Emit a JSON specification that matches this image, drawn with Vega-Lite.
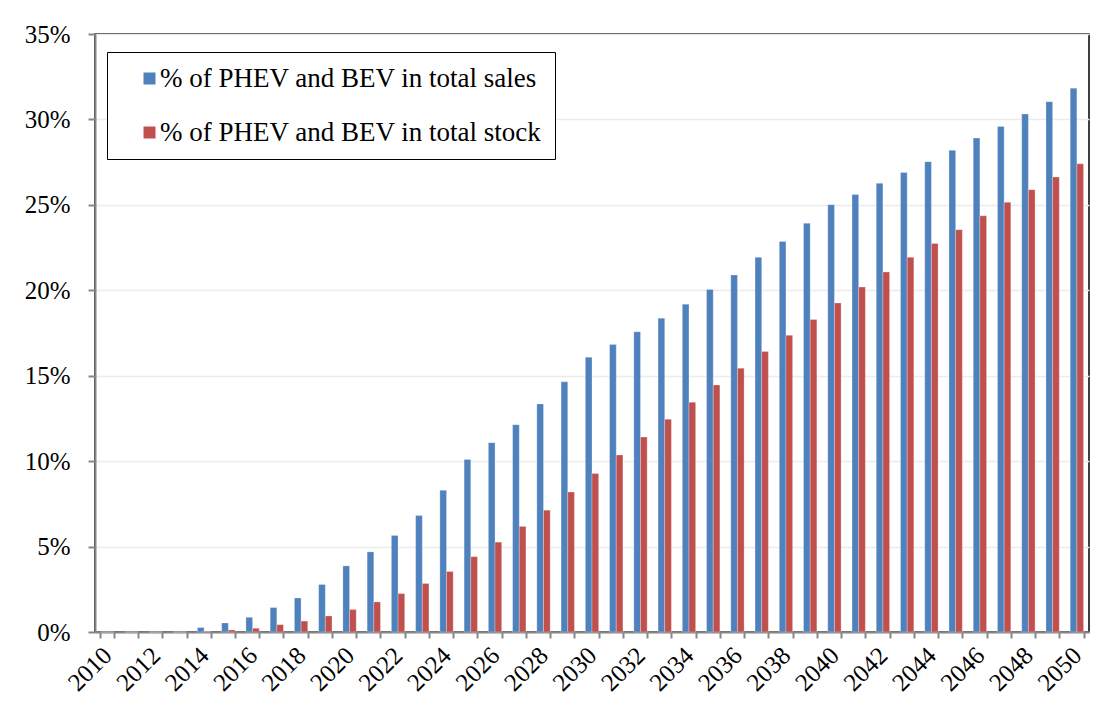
{
  "$schema": "https://vega.github.io/schema/vega-lite/v6.json",
  "width": 994,
  "height": 598,
  "autosize": "none",
  "padding": {"left": 95, "top": 34, "right": 27, "bottom": 90},
  "background": "white",
  "config": {
    "font": "Liberation Serif",
    "view": {"stroke": "#000000", "strokeWidth": 1.5}
  },
  "data": {
    "values": [
      {"year": 2010, "series": "sales", "value": 0}, {"year": 2010, "series": "stock", "value": 0},
      {"year": 2011, "series": "sales", "value": 0}, {"year": 2011, "series": "stock", "value": 0},
      {"year": 2012, "series": "sales", "value": 0}, {"year": 2012, "series": "stock", "value": 0},
      {"year": 2013, "series": "sales", "value": 0}, {"year": 2013, "series": "stock", "value": 0},
      {"year": 2014, "series": "sales", "value": 0.26}, {"year": 2014, "series": "stock", "value": 0.03},
      {"year": 2015, "series": "sales", "value": 0.53}, {"year": 2015, "series": "stock", "value": 0.12},
      {"year": 2016, "series": "sales", "value": 0.86}, {"year": 2016, "series": "stock", "value": 0.22},
      {"year": 2017, "series": "sales", "value": 1.43}, {"year": 2017, "series": "stock", "value": 0.43},
      {"year": 2018, "series": "sales", "value": 1.99}, {"year": 2018, "series": "stock", "value": 0.64},
      {"year": 2019, "series": "sales", "value": 2.78}, {"year": 2019, "series": "stock", "value": 0.94},
      {"year": 2020, "series": "sales", "value": 3.87}, {"year": 2020, "series": "stock", "value": 1.31},
      {"year": 2021, "series": "sales", "value": 4.69}, {"year": 2021, "series": "stock", "value": 1.76},
      {"year": 2022, "series": "sales", "value": 5.65}, {"year": 2022, "series": "stock", "value": 2.25},
      {"year": 2023, "series": "sales", "value": 6.82}, {"year": 2023, "series": "stock", "value": 2.84},
      {"year": 2024, "series": "sales", "value": 8.29}, {"year": 2024, "series": "stock", "value": 3.54},
      {"year": 2025, "series": "sales", "value": 10.09}, {"year": 2025, "series": "stock", "value": 4.41},
      {"year": 2026, "series": "sales", "value": 11.08}, {"year": 2026, "series": "stock", "value": 5.26},
      {"year": 2027, "series": "sales", "value": 12.13}, {"year": 2027, "series": "stock", "value": 6.18},
      {"year": 2028, "series": "sales", "value": 13.35}, {"year": 2028, "series": "stock", "value": 7.13},
      {"year": 2029, "series": "sales", "value": 14.64}, {"year": 2029, "series": "stock", "value": 8.19},
      {"year": 2030, "series": "sales", "value": 16.08}, {"year": 2030, "series": "stock", "value": 9.28},
      {"year": 2031, "series": "sales", "value": 16.82}, {"year": 2031, "series": "stock", "value": 10.36},
      {"year": 2032, "series": "sales", "value": 17.57}, {"year": 2032, "series": "stock", "value": 11.41},
      {"year": 2033, "series": "sales", "value": 18.37}, {"year": 2033, "series": "stock", "value": 12.45},
      {"year": 2034, "series": "sales", "value": 19.19}, {"year": 2034, "series": "stock", "value": 13.45},
      {"year": 2035, "series": "sales", "value": 20.05}, {"year": 2035, "series": "stock", "value": 14.46},
      {"year": 2036, "series": "sales", "value": 20.9}, {"year": 2036, "series": "stock", "value": 15.44},
      {"year": 2037, "series": "sales", "value": 21.93}, {"year": 2037, "series": "stock", "value": 16.41},
      {"year": 2038, "series": "sales", "value": 22.86}, {"year": 2038, "series": "stock", "value": 17.37},
      {"year": 2039, "series": "sales", "value": 23.92}, {"year": 2039, "series": "stock", "value": 18.29},
      {"year": 2040, "series": "sales", "value": 25.01}, {"year": 2040, "series": "stock", "value": 19.26},
      {"year": 2041, "series": "sales", "value": 25.61}, {"year": 2041, "series": "stock", "value": 20.19},
      {"year": 2042, "series": "sales", "value": 26.26}, {"year": 2042, "series": "stock", "value": 21.07},
      {"year": 2043, "series": "sales", "value": 26.89}, {"year": 2043, "series": "stock", "value": 21.93},
      {"year": 2044, "series": "sales", "value": 27.52}, {"year": 2044, "series": "stock", "value": 22.74},
      {"year": 2045, "series": "sales", "value": 28.19}, {"year": 2045, "series": "stock", "value": 23.55},
      {"year": 2046, "series": "sales", "value": 28.91}, {"year": 2046, "series": "stock", "value": 24.36},
      {"year": 2047, "series": "sales", "value": 29.58}, {"year": 2047, "series": "stock", "value": 25.15},
      {"year": 2048, "series": "sales", "value": 30.32}, {"year": 2048, "series": "stock", "value": 25.89},
      {"year": 2049, "series": "sales", "value": 31.04}, {"year": 2049, "series": "stock", "value": 26.63},
      {"year": 2050, "series": "sales", "value": 31.83}, {"year": 2050, "series": "stock", "value": 27.4}
    ]
  },
  "mark": {"type": "bar", "stroke": "#ffffff", "strokeOpacity": 0.45, "strokeWidth": 0.6},
  "encoding": {
    "x": {
      "field": "year",
      "type": "ordinal",
      "scale": {"paddingInner": 0.45, "paddingOuter": 0.225},
      "axis": {
        "title": null,
        "tickBand": "extent",
        "labelAngle": -45,
        "labelAlign": "right",
        "labelBaseline": "middle",
        "labelExpr": "datum.value % 2 == 0 ? datum.label : ''",
        "labelFont": "Liberation Serif",
        "labelFontSize": 25,
        "labelColor": "#000000",
        "labelPadding": 13,
        "labelOverlap": false,
        "domainColor": "#868686",
        "domainWidth": 2,
        "tickColor": "#868686",
        "tickWidth": 2,
        "tickSize": 6,
        "grid": false
      }
    },
    "xOffset": {"field": "series", "sort": ["sales", "stock"]},
    "y": {
      "field": "value",
      "type": "quantitative",
      "scale": {"domain": [0, 35], "nice": false},
      "axis": {
        "title": null,
        "values": [0, 5, 10, 15, 20, 25, 30, 35],
        "labelExpr": "datum.value + '%'",
        "labelFont": "Liberation Serif",
        "labelFontSize": 25,
        "labelColor": "#000000",
        "labelPadding": 18,
        "domainColor": "#868686",
        "domainWidth": 2,
        "tickColor": "#868686",
        "tickWidth": 2,
        "tickSize": 7,
        "grid": true,
        "gridColor": "#ececec",
        "gridWidth": 1.5
      }
    },
    "color": {
      "field": "series",
      "type": "nominal",
      "scale": {"domain": ["sales", "stock"], "range": ["#4F81BD", "#C0504D"]},
      "legend": {
        "title": null,
        "orient": "none",
        "legendX": 12,
        "legendY": 18,
        "labelExpr": "datum.value == 'sales' ? '% of PHEV and BEV in total sales' : '% of PHEV and BEV in total stock'",
        "labelFont": "Liberation Serif",
        "labelFontSize": 27,
        "labelColor": "#000000",
        "labelLimit": 700,
        "labelOffset": -3,
        "symbolType": "square",
        "symbolSize": 144,
        "symbolStrokeWidth": 0,
        "symbolOffset": 16,
        "rowPadding": 26,
        "padding": 13,
        "strokeColor": "#000000",
        "fillColor": "#ffffff",
        "encode": {"legend": {"update": {"strokeWidth": {"value": 1.5}}}}
      }
    }
  }
}
